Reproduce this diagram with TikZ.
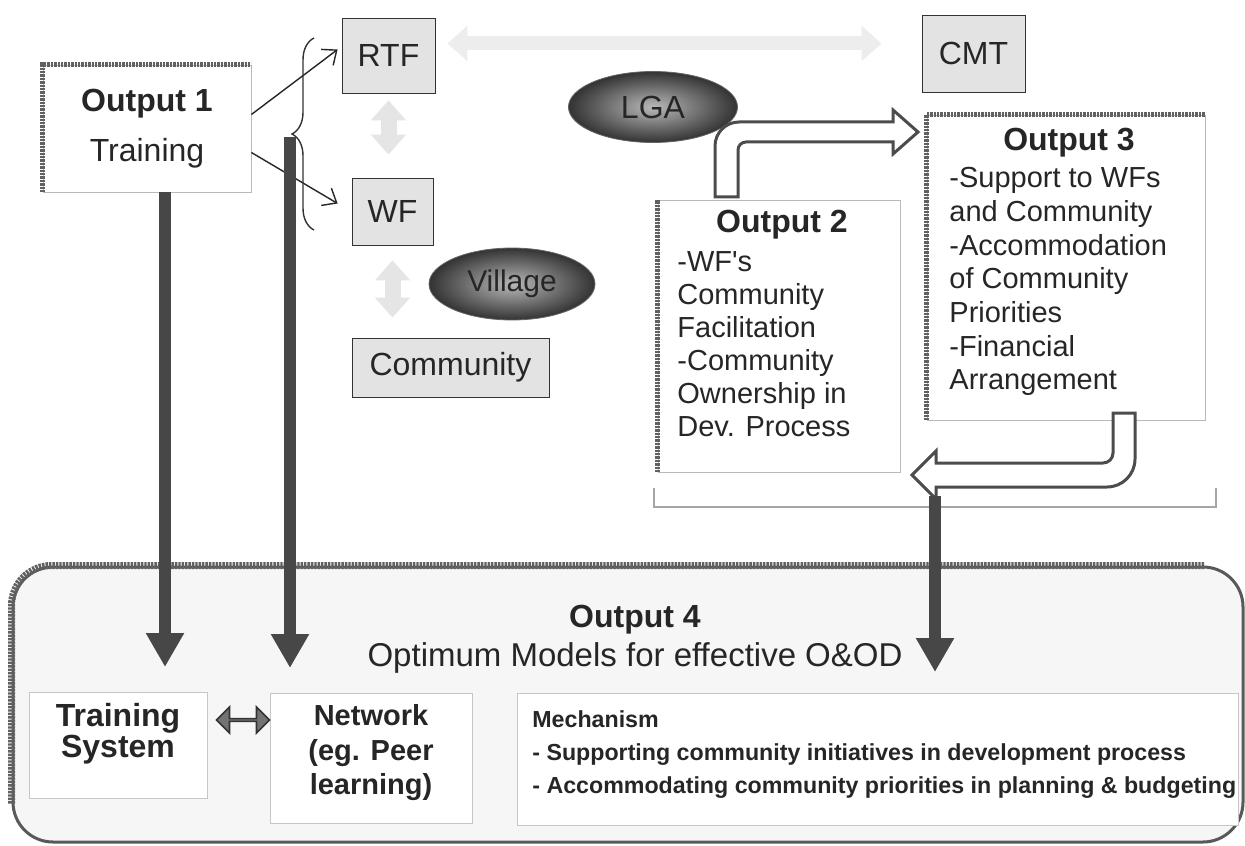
\documentclass[tikz,border=0pt]{standalone}
\usepackage{fontspec}
\setmainfont{Liberation Sans}
\usetikzlibrary{arrows.meta,shapes.geometric,shapes.arrows,shadings,decorations.pathreplacing}

\begin{document}
\begin{tikzpicture}[x=0.5pt, y=-0.5pt,
  every node/.style={inner sep=0pt, text=black!85},
  graybox/.style={draw=black!80, fill=gray!22, font=\fontsize{16}{19}\selectfont},
  outbox/.style={draw=gray!55, fill=white},
  edgedark/.style={draw=black!62, line width=2.2pt, dash pattern=on 1.2pt off 0.5pt},
  oval/.style={ellipse, draw=black!60, inner color=gray!55, outer color=black!80, font=\fontsize{16}{19}\selectfont},
  bar/.style={draw=black!72, line width=6pt, -{Triangle[length=17pt,width=18pt]}},
  thinarrow/.style={draw=black!85, line width=0.7pt, -{Straight Barb[length=6pt,width=10pt]}},
  fadearrow/.style={draw=gray!20, line width=8pt, {Triangle[length=10pt,width=17pt]}-{Triangle[length=10pt,width=17pt]}},
  hollow/.style={draw=black!70, line width=1.5pt, fill=white},
  titletext/.style={font=\bfseries\fontsize{16}{19}\selectfont},
  bodytext/.style={align=left, anchor=north west, font=\fontsize{14.5}{16.5}\selectfont},
]
\useasboundingbox (0,0) rectangle (1245,845);
\fill[white] (0,0) rectangle (1245,845);

% Output 4 (big rounded box, drawn first)
\node[draw=black!65, line width=1.5pt, fill=gray!7, rounded corners=20pt,
  minimum width=615pt, minimum height=137.5pt] (out4) at (628,704.5) {};
\draw[edgedark, line width=3.5pt, rounded corners=20pt, shorten <=20pt, shorten >=20pt]
  (out4.south west) -- (out4.north west) -- (out4.north east);
\node[titletext] (out4title) at (635,620) {Output 4};
\node[font=\fontsize{16.5}{19}\selectfont] (out4sub) at (635,658) {Optimum Models for effective O\&OD};

% inner boxes of Output 4
\node[outbox, draw=gray!45, minimum width=89pt, minimum height=53pt] (trainsys) at (118,745) {};
\node[font=\bfseries\fontsize{16}{15.5}\selectfont, align=center] (trainsystext) at (118,734) {Training\\System};
\node[outbox, draw=gray!45, minimum width=101pt, minimum height=65pt] (network) at (371,758) {};
\node[font=\bfseries\fontsize{14.5}{17.25}\selectfont, align=center] (networktext) at (371,753) {Network\\(eg. Peer\\learning)};
\node[outbox, draw=gray!45, minimum width=360.5pt, minimum height=66pt] (mech) at (877.5,759) {};
\node[font=\bfseries\fontsize{11.6}{16.5}\selectfont, align=left, anchor=west] (mechtext) at (532,755)
  {Mechanism\\- Supporting community initiatives in development process\\- Accommodating community priorities in planning \& budgeting};
\node[double arrow, draw=black!80, fill=black!55, line width=0.8pt, minimum height=26.5pt,
  minimum width=13pt, double arrow head extend=3.5pt] (dblarrow) at (243,720) {};

% Output 1
\node[outbox, minimum width=104pt, minimum height=63.5pt, align=center, font=\fontsize{16}{19}\selectfont]
  (out1) at (147,128.5) {\textbf{Output 1}\\[6pt]Training};
\draw[edgedark] (out1.south west) -- (out1.north west) -- (out1.north east);

% RTF, WF, Community, CMT
\node[graybox, minimum width=46.5pt, minimum height=37.5pt] (rtf) at (388.5,55.5) {RTF};
\node[graybox, minimum width=40.5pt, minimum height=33.5pt] (wf) at (392.5,211.5) {WF};
\node[graybox, minimum width=98.5pt, minimum height=29.5pt] (comm) at (450.5,367.5) {Community};
\node[graybox, minimum width=51.5pt, minimum height=38.5pt] (cmt) at (973.5,53.5) {CMT};

% ovals
\node[oval, minimum width=83pt, minimum height=36pt, font=\fontsize{15}{18}\selectfont] (village) at (512,284) {Village};
\node[oval, minimum width=84.5pt, minimum height=35.5pt] (lga) at (653,107) {LGA};

% faded links
\draw[fadearrow, shorten <=3.5pt, shorten >=11.5pt] (rtf.south) -- (rtf.south |- wf.north);
\draw[fadearrow, shorten <=7.5pt, shorten >=10pt] (wf.south) -- (wf.south |- comm.north);
\draw[fadearrow, draw=gray!14, line width=7pt, shorten <=6pt, shorten >=20pt] ([yshift=6pt]rtf.east) -- ([yshift=6pt]rtf.east -| cmt.west);

% Output 1 to RTF and WF
\draw[thinarrow] ([yshift=7pt]out1.east) -- ([xshift=-2pt,yshift=3pt]rtf.west);
\draw[thinarrow] ([yshift=-12pt]out1.east) -- ([xshift=-7pt,yshift=4pt]wf.west);
\draw[draw=black!80, line width=0.7pt, decorate, decoration={brace, amplitude=11pt}] (314,230) -- (314,38);

% Output 2
\node[outbox, minimum width=121pt, minimum height=136pt] (out2) at (779,336) {};
\draw[edgedark] (out2.south west) -- (out2.north west);
\node[titletext] (out2title) at (782,225) {Output 2};
\node[bodytext] (out2text) at (677,251)
  {-WF\textquotesingle s\\Community\\Facilitation\\-Community\\Ownership in\\Dev. Process};

% Output 3
\node[outbox, minimum width=139pt, minimum height=152.5pt] (out3) at (1066,267.5) {};
\draw[edgedark] (out3.south west) -- (out3.north west) -- (out3.north east);
\node[titletext] (out3title) at (1069,143) {Output 3};
\node[bodytext, font=\fontsize{14.5}{16.85}\selectfont] (out3text) at (949,167)
  {-Support to WFs\\and Community\\-Accommodation\\of Community\\Priorities\\-Financial\\Arrangement};

% hollow bent arrows
\draw[hollow] (715,197) [rounded corners=12pt] -- (715,122) [sharp corners] -- (893,122) -- (893,110)
  -- (918,132) -- (893,154) -- (893,142) [rounded corners=4pt] -- (738,142) [sharp corners] -- (738,197) -- cycle;
\draw[hollow] (1113,413) [rounded corners=5pt] -- (1113,463) [sharp corners] -- (936,463) -- (936,451)
  -- (912,475) -- (936,499) -- (936,487) [rounded corners=14pt] -- (1135,487) [sharp corners] -- (1135,413) -- cycle;

% bracket under Output 2 and 3
\draw[draw=gray!70, line width=0.8pt] (654,488) -- (654,507) -- (1216,507) -- (1216,488);

% thick arrows into Output 4
\coordinate (tipA) at (165,667);
\coordinate (bracetip) at (290,137);
\coordinate (tipB) at (290,668);
\coordinate (bracketmid) at (935,496);
\coordinate (tipC) at (935,672);
\draw[bar] (out1.south -| tipA) -- (tipA);
\draw[bar] (bracetip) -- (tipB);
\draw[bar] (bracketmid) -- (tipC);

\end{tikzpicture}
\end{document}
